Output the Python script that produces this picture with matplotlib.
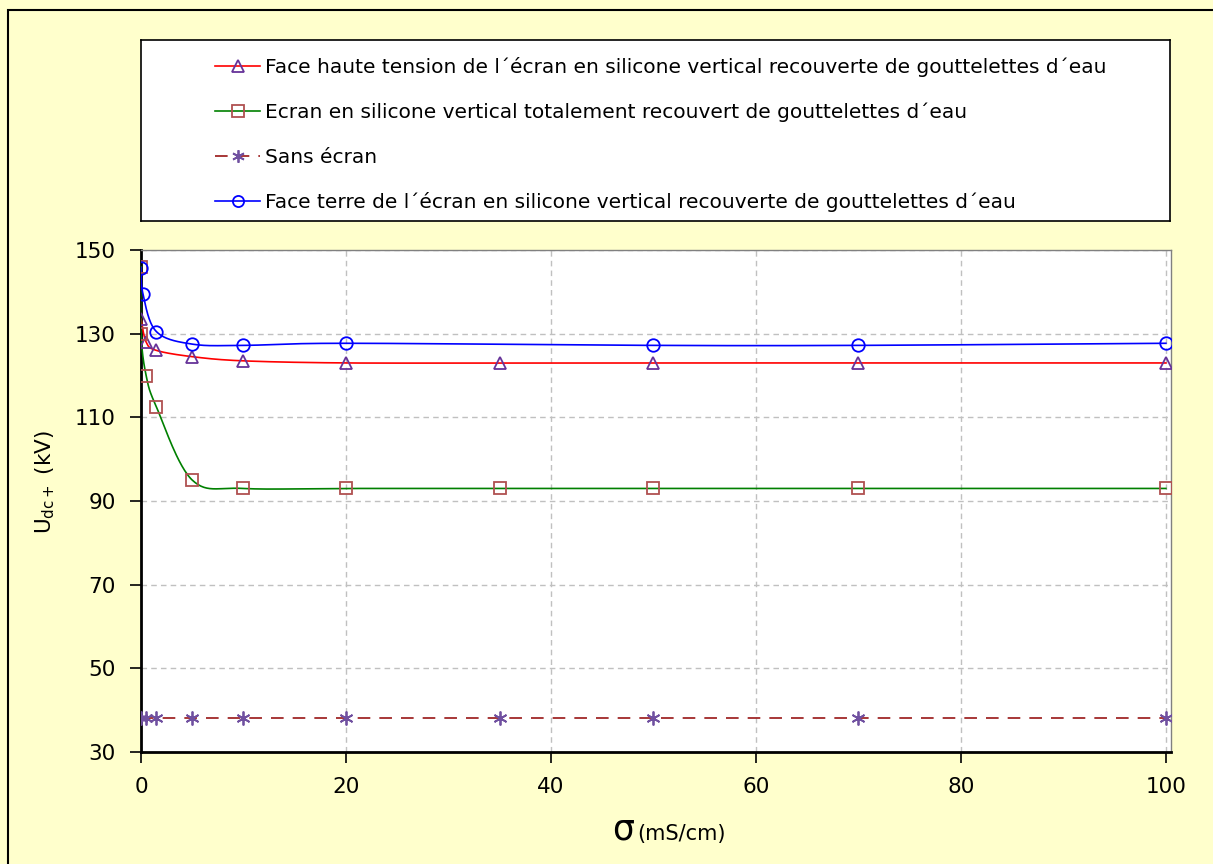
import matplotlib.pyplot as plt
import numpy as np
from matplotlib.patches import Rectangle
from matplotlib.lines import Line2D

# data
x_ht = [0, 0.5, 1.5, 5, 10, 20, 35, 50, 70, 100]
y_ht = [133.5, 128, 126, 124.5, 123.5, 123, 123, 123, 123, 123]

x_tot = [0, 0, 0.5, 1.5, 5, 10, 20, 35, 50, 70, 100]
y_tot = [146, 130, 120, 112.5, 95, 93, 93, 93, 93, 93, 93]

x_sans = [0, 0.5, 1.5, 5, 10, 20, 35, 50, 70, 100]
y_sans = [38.2, 38.2, 38.2, 38.2, 38.2, 38.2, 38.2, 38.2, 38.2, 38.2]

x_terre = [0, 0.2, 1.5, 5, 10, 20, 50, 70, 100]
y_terre = [145.8, 139.4, 130.5, 127.5, 127.2, 127.7, 127.2, 127.2, 127.7]

labels = ["Face haute tension de l\u00b4\u00e9cran en silicone vertical recouverte de gouttelettes d\u00b4eau",
          "Ecran en silicone vertical totalement recouvert de gouttelettes d\u00b4eau",
          "Sans \u00e9cran",
          "Face terre de l\u00b4\u00e9cran en silicone vertical recouverte de gouttelettes d\u00b4eau"]

xmin, xmax = 0, 100.5
ymin, ymax = 30, 150


def smooth(x, y, sx, sy, n=30):
    # bezier smoothing like the spreadsheet "smoothed line" option
    P = np.column_stack([np.array(x, float) * sx, np.array(y, float) * sy])
    out = [P[0]]
    t = np.linspace(0, 1, n)[1:, None]
    for i in range(len(P) - 1):
        p0 = P[i - 1] if i > 0 else P[i]
        p3 = P[i + 2] if i + 2 < len(P) else P[i + 1]
        c1 = P[i] + (P[i + 1] - p0) / 6
        c2 = P[i + 1] - (p3 - P[i]) / 6
        seg = (1 - t) ** 3 * P[i] + 3 * (1 - t) ** 2 * t * c1 + 3 * (1 - t) * t ** 2 * c2 + t ** 3 * P[i + 1]
        out.extend(seg)
    out = np.array(out)
    return out[:, 0] / sx, out[:, 1] / sy


W, H = 1213, 864
fig = plt.figure(figsize=(W / 100, H / 100), dpi=100, facecolor='#FFFFCC')
plt.rcParams['font.family'] = 'DejaVu Sans'

fig.patches.append(Rectangle((8 / W, -0.01), 1.02, 1 - 10 / H + 0.01, transform=fig.transFigure,
                             facecolor='none', edgecolor='black', lw=1.5))

ax = fig.add_axes([141 / W, 1 - 752 / H, 1030 / W, 502 / H])
ax.set_facecolor('white')
ax.set_xlim(xmin, xmax)
ax.set_ylim(ymin, ymax)

sx = 1030 / (xmax - xmin)
sy = 502 / (ymax - ymin)

xs, ys = smooth(x_ht, y_ht, sx, sy)
ax.plot(xs, ys, color='#FF0000', lw=1.2, zorder=3)
ax.plot(x_ht, y_ht, ls='none', marker='^', ms=9, mfc='none', mec='#663399', mew=1.3, zorder=4)

xs, ys = smooth(x_tot, y_tot, sx, sy)
ax.plot(xs, ys, color='#008000', lw=1.2, zorder=3)
ax.plot(x_tot, y_tot, ls='none', marker='s', ms=9, mfc='none', mec='#B05050', mew=1.3, zorder=4)

ax.plot(x_sans, y_sans, color='#A02828', lw=1.3, dashes=(7, 5), zorder=3)
ax.plot(x_sans, y_sans, ls='none', marker=(6, 2, 0), ms=10, mec='#7050A0', mew=1.3, zorder=4)

xs, ys = smooth(x_terre, y_terre, sx, sy)
ax.plot(xs, ys, color='#0000FF', lw=1.2, zorder=3)
ax.plot(x_terre, y_terre, ls='none', marker='o', ms=9, mfc='none', mec='#0000FF', mew=1.3, zorder=4)

ax.set_xticks([0, 20, 40, 60, 80, 100])
ax.set_yticks([30, 50, 70, 90, 110, 130, 150])
ax.grid(True, color='#C0C0C0', ls=(0, (4, 3)), lw=1)
ax.set_axisbelow(True)
ax.tick_params(direction='out', length=8, width=1.2, labelsize=15.5, pad=10)
for s in ['left', 'bottom']:
    ax.spines[s].set_color('black')
    ax.spines[s].set_linewidth(2)
for s in ['top', 'right']:
    ax.spines[s].set_color('#808080')
    ax.spines[s].set_linewidth(1)

fig.text(45 / W, 1 - 482 / H, r'U$_{\mathregular{dc+}}$ (kV)', rotation=90, ha='center', va='center', fontsize=15.5)
fig.text(634 / W, 1 - 840 / H, '\u03c3', ha='right', va='baseline', fontsize=25)
fig.text(637 / W, 1 - 840 / H, '(mS/cm)', ha='left', va='baseline', fontsize=15)

# legend box
lax = fig.add_axes([141 / W, 1 - 221 / H, 1029 / W, 181 / H])
lax.set_facecolor('white')
lax.set_xticks([])
lax.set_yticks([])
for s in lax.spines.values():
    s.set_color('black')
    s.set_linewidth(1.2)

handles = [
    Line2D([], [], color='#FF0000', lw=1.2, marker='^', ms=8, mfc='none', mec='#663399', mew=1.3),
    Line2D([], [], color='#008000', lw=1.2, marker='s', ms=8, mfc='none', mec='#B05050', mew=1.3),
    Line2D([], [], color='#A02828', lw=1.3, dashes=(7, 5), marker=(6, 2, 0), ms=9, mec='#7050A0', mew=1.3),
    Line2D([], [], color='#0000FF', lw=1.2, marker='o', ms=8, mfc='none', mec='#0000FF', mew=1.3),
]
lax.legend(handles, labels, loc='upper left', bbox_to_anchor=(74 / 1029, 0.905), frameon=False,
           fontsize=14.5, handlelength=2.25, handletextpad=0.25, labelspacing=1.27,
           borderpad=0, borderaxespad=0)

fig.savefig('out.png', dpi=100, facecolor=fig.get_facecolor())
